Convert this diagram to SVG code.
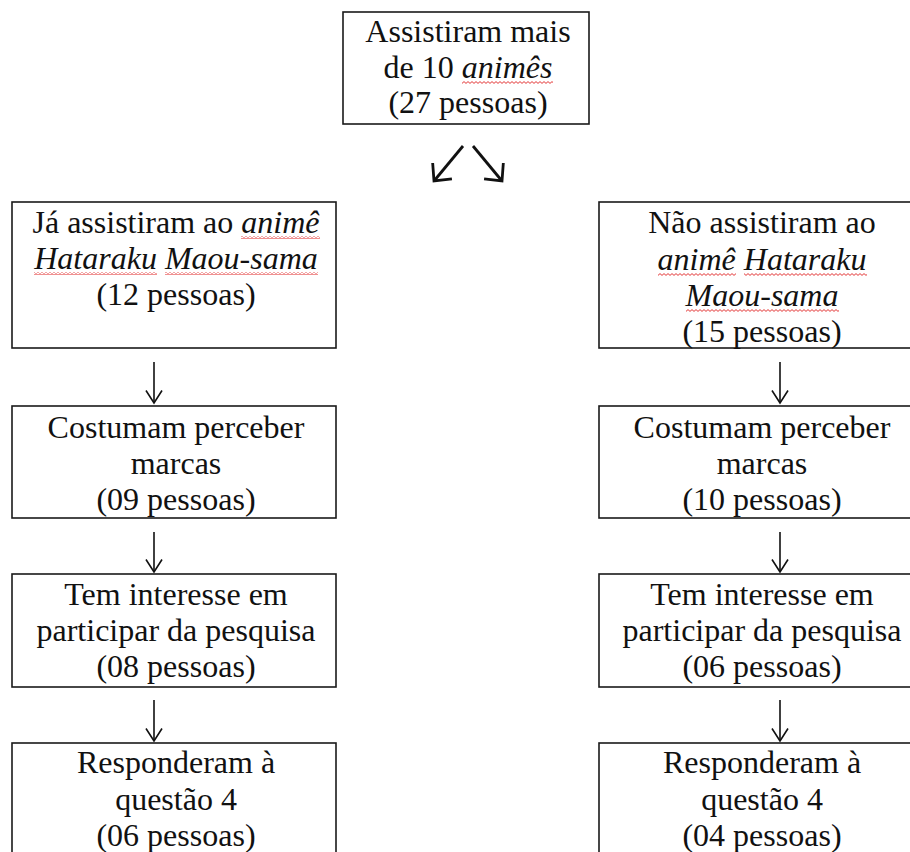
<svg xmlns="http://www.w3.org/2000/svg" width="910" height="852" viewBox="0 0 910 852">
<defs>
<style>
.box{fill:#fff;stroke:#1a1a1a;stroke-width:1.6}
.t{font-family:"Liberation Serif","Times New Roman",serif;font-size:32px;fill:#111;text-anchor:middle}
.i{font-style:italic}
.c{stroke:#111;stroke-width:1.6;fill:none}
.d{stroke:#111;stroke-width:2.8;fill:none}
.sq{fill:url(#wave)}
</style>
<pattern id="wave" width="4" height="3" patternUnits="userSpaceOnUse">
<path d="M0,0.6 L2,2.4 L4,0.6" stroke="#e02020" stroke-width="0.9" fill="none"/>
</pattern>
<marker id="ah" markerUnits="userSpaceOnUse" markerWidth="30" markerHeight="30" refX="0" refY="0" viewBox="-15 -15 30 30" orient="auto" overflow="visible">
<path d="M-12.5,-8 L0,0 L-12.5,8" stroke="#111" stroke-width="1.6" fill="none"/>
</marker>
<marker id="ad" markerUnits="userSpaceOnUse" markerWidth="40" markerHeight="40" refX="0" refY="0" viewBox="-20 -20 40 40" orient="auto" overflow="visible">
<path d="M-13,-12.5 L0,0 L-13,12.5" stroke="#111" stroke-width="2.8" fill="none"/>
</marker>
</defs>

<g id="connectors">
<line class="d" x1="463" y1="146" x2="434" y2="181" marker-end="url(#ad)"/>
<line class="d" x1="473" y1="146" x2="502" y2="181" marker-end="url(#ad)"/>
<line class="c" x1="154" y1="362" x2="154" y2="403" marker-end="url(#ah)"/>
<line class="c" x1="154" y1="532" x2="154" y2="572" marker-end="url(#ah)"/>
<line class="c" x1="154" y1="700" x2="154" y2="741" marker-end="url(#ah)"/>
<line class="c" x1="780" y1="362" x2="780" y2="403" marker-end="url(#ah)"/>
<line class="c" x1="780" y1="532" x2="780" y2="572" marker-end="url(#ah)"/>
<line class="c" x1="780" y1="700" x2="780" y2="741" marker-end="url(#ah)"/>
</g>

<g id="top">
<rect class="box" x="343" y="12" width="246" height="112"/>
<text class="t" x="468" y="42">Assistiram mais</text>
<text class="t" x="468" y="78">de 10 <tspan class="i">animês</tspan></text>
<text class="t" x="468" y="113">(27 pessoas)</text>
<rect class="sq" x="462" y="81" width="91" height="3"/>
</g>

<g id="left1">
<rect class="box" x="12" y="202" width="324" height="146"/>
<text class="t" x="176" y="233">Já assistiram ao <tspan class="i">animê</tspan></text>
<text class="t i" x="176" y="269">Hataraku Maou-sama</text>
<text class="t" x="176" y="305">(12 pessoas)</text>
<rect class="sq" x="241" y="236" width="79" height="3"/>
<rect class="sq" x="34" y="272" width="123" height="3"/>
<rect class="sq" x="165" y="272" width="153" height="3"/>
</g>

<g id="right1">
<rect class="box" x="599" y="202" width="330" height="146"/>
<text class="t" x="762" y="233">Não assistiram ao</text>
<text class="t i" x="762" y="270">animê Hataraku</text>
<text class="t i" x="762" y="306">Maou-sama</text>
<text class="t" x="762" y="342">(15 pessoas)</text>
<rect class="sq" x="658" y="273" width="78" height="3"/>
<rect class="sq" x="744" y="273" width="123" height="3"/>
<rect class="sq" x="686" y="309" width="153" height="3"/>
</g>

<g id="left2">
<rect class="box" x="12" y="406" width="324" height="112"/>
<text class="t" x="176" y="438">Costumam perceber</text>
<text class="t" x="176" y="474">marcas</text>
<text class="t" x="176" y="510">(09 pessoas)</text>
</g>

<g id="right2">
<rect class="box" x="599" y="406" width="330" height="112"/>
<text class="t" x="762" y="438">Costumam perceber</text>
<text class="t" x="762" y="474">marcas</text>
<text class="t" x="762" y="510">(10 pessoas)</text>
</g>

<g id="left3">
<rect class="box" x="12" y="574" width="324" height="113"/>
<text class="t" x="176" y="605">Tem interesse em</text>
<text class="t" x="176" y="641">participar da pesquisa</text>
<text class="t" x="176" y="677">(08 pessoas)</text>
</g>

<g id="right3">
<rect class="box" x="599" y="574" width="330" height="113"/>
<text class="t" x="762" y="605">Tem interesse em</text>
<text class="t" x="762" y="641">participar da pesquisa</text>
<text class="t" x="762" y="677">(06 pessoas)</text>
</g>

<g id="left4">
<rect class="box" x="12" y="743" width="324" height="130"/>
<text class="t" x="176" y="773">Responderam à</text>
<text class="t" x="176" y="810">questão 4</text>
<text class="t" x="176" y="846">(06 pessoas)</text>
</g>

<g id="right4">
<rect class="box" x="599" y="743" width="330" height="130"/>
<text class="t" x="762" y="773">Responderam à</text>
<text class="t" x="762" y="810">questão 4</text>
<text class="t" x="762" y="846">(04 pessoas)</text>
</g>
</svg>
